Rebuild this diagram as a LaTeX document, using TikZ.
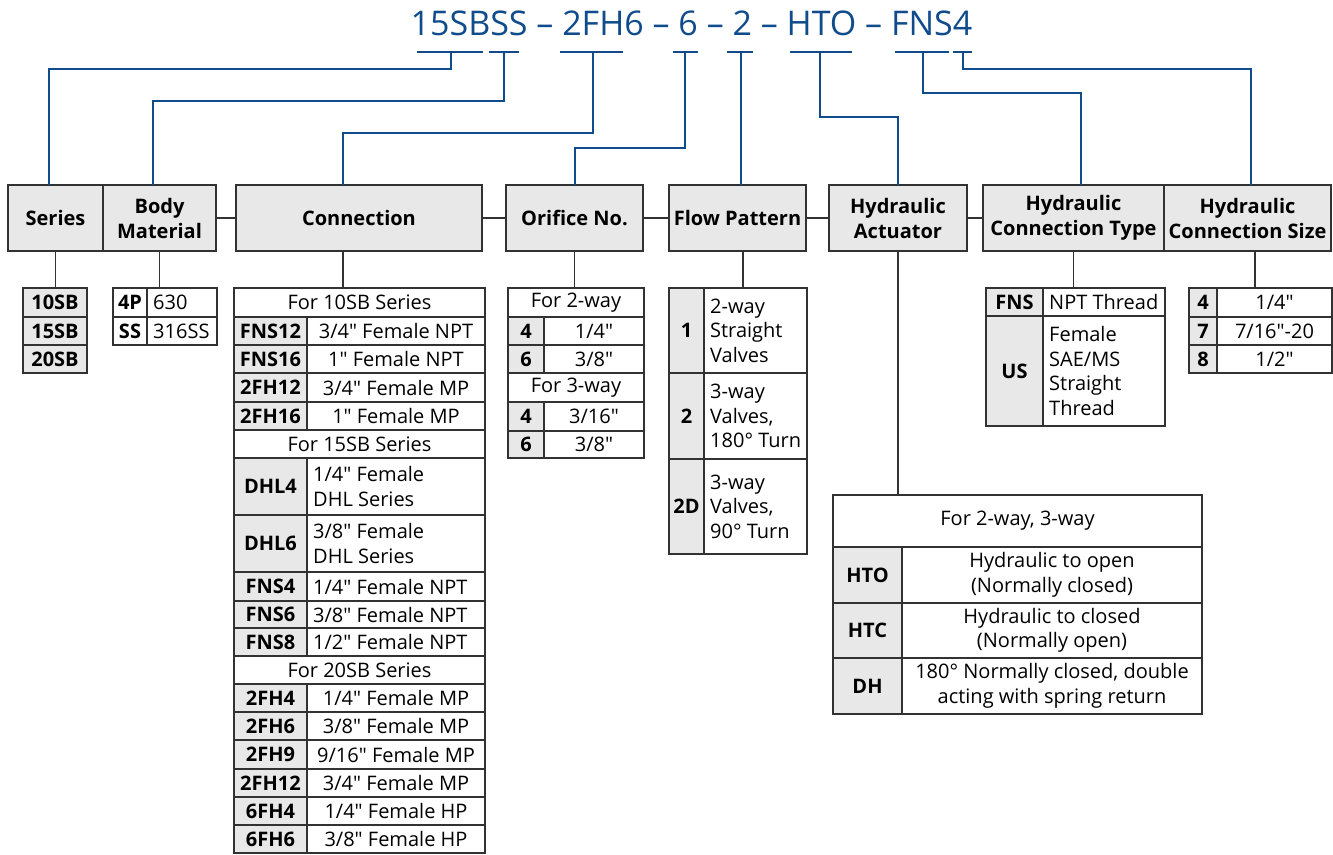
\documentclass[tikz,border=0pt]{standalone}
\usepackage{fontspec}
\setmainfont{Open Sans}[Ligatures=TeXOff]
\usetikzlibrary{calc}
\definecolor{bblue}{RGB}{16,76,140}
\definecolor{cgrey}{RGB}{232,232,232}
\definecolor{cline}{RGB}{50,50,50}
\newcommand\mkcell[7][]{\node[cell,#1,minimum width={(#5-#3)*1pt},minimum height={(#6-#4)*1pt}] (#2) at ({(#3+#5)/2},{(#4+#6)/2}) {#7};}
\newcommand\mkcellL[7][]{\node[cell,#1,minimum width={(#5-#3)*1pt},minimum height={(#6-#4)*1pt},label={[lbl]west:{#7}}] (#2) at ({(#3+#5)/2},{(#4+#6)/2}) {};}
\begin{document}
\begin{tikzpicture}[x=1pt,y=-1pt,
 cell/.style={draw=cline,line width=1.4pt,inner sep=0pt,outer sep=0pt,align=center,font=\fontsize{20}{24.5}\selectfont},
 lbl/.style={anchor=west,align=left,inner sep=0pt,label distance=0pt,xshift=6pt,font=\fontsize{20}{24.5}\selectfont},
 code/.style={fill=cgrey,font=\fontsize{20}{24.5}\selectfont\bfseries},
 codew/.style={font=\fontsize{20}{24.5}\selectfont\bfseries},
 head/.style={fill=cgrey,font=\fontsize{20}{25}\selectfont\bfseries},
 bl/.style={draw=bblue,line width=2.6pt},
 link/.style={draw=cline,line width=2pt},
 stem/.style={draw=cline,line width=1.5pt}]
\useasboundingbox (0,0) rectangle (1333,854);

% title
\node[font=\fontsize{34}{40}\selectfont,text=bblue,anchor=base,inner sep=0pt] (title) at (691.5,35) {15SBSS – 2FH6 – 6 – 2 – HTO – FNS4};

% header boxes
\mkcell[head]{hSeries}{8}{185}{103}{251}{Series}
\mkcell[head]{hBody}{103}{185}{216}{251}{Body\\Material}
\mkcell[head]{hConn}{236}{185}{482}{251}{Connection}
\mkcell[head]{hOrif}{506}{185}{643}{251}{Orifice No.}
\mkcell[head]{hFlow}{669}{185}{806}{251}{Flow Pattern}
\mkcell[head]{hAct}{829}{185}{967}{251}{Hydraulic\\Actuator}
\mkcell[head]{hType}{983}{185}{1164}{251}{Hydraulic\\Connection Type}
\mkcell[head]{hSize}{1164}{185}{1331}{251}{Hydraulic\\Connection Size}

% links between header boxes
\draw[link] (hBody.east) -- (hConn.west);
\draw[link] (hConn.east) -- (hOrif.west);
\draw[link] (hOrif.east) -- (hFlow.west);
\draw[link] (hFlow.east) -- (hAct.west);
\draw[link] (hAct.east) -- (hType.west);

% code bars and blue connectors
\coordinate (k1) at (451,52);
\coordinate (k2) at (504,52);
\coordinate (k3) at (593,52);
\coordinate (k4) at (685,52);
\coordinate (k5) at (741,52);
\coordinate (k6) at (820,52);
\coordinate (k7) at (923,52);
\coordinate (k8) at (963,52);
\draw[bl] ($(k1)+(-34,0)$) -- ($(k1)+(32,0)$);
\draw[bl] ($(k2)+(-15,0)$) -- ($(k2)+(15,0)$);
\draw[bl] ($(k3)+(-33,0)$) -- ($(k3)+(30,0)$);
\draw[bl] ($(k4)+(-12,0)$) -- ($(k4)+(13,0)$);
\draw[bl] ($(k5)+(-14,0)$) -- ($(k5)+(12,0)$);
\draw[bl] ($(k6)+(-30,0)$) -- ($(k6)+(32,0)$);
\draw[bl] ($(k7)+(-28,0)$) -- ($(k7)+(26,0)$);
\draw[bl] ($(k8)+(-10,0)$) -- ($(k8)+(9,0)$);
\draw[bl] (k1) -- (451,69) -| ($(hSeries.north west)+(41,0)$);
\draw[bl] (k2) -- (504,101) -| ($(hBody.north west)+(50,0)$);
\draw[bl] (k3) -- (593,133) -| ($(hConn.north west)+(107,0)$);
\draw[bl] (k4) -- (685,148) -| ($(hOrif.north west)+(69,0)$);
\draw[bl] (k5) -- (k5 |- hFlow.north);
\draw[bl] (k6) -- (820,117) -| (hAct.north);
\draw[bl] (k7) -- (923,93) -| ($(hType.north west)+(98,0)$);
\draw[bl] (k8) -- (963,69) -| ($(hSize.north west)+(87,0)$);

% Series table
\mkcell[code]{s1}{23}{288}{87}{317}{10SB}
\mkcell[code]{s2}{23}{317}{87}{345}{15SB}
\mkcell[code]{s3}{23}{345}{87}{373}{20SB}

% Body material table
\mkcell[codew]{b1c}{113}{288}{147}{317}{4P}
\mkcellL{b1v}{147}{288}{217}{317}{630}
\mkcell[codew]{b2c}{113}{317}{147}{345}{SS}
\mkcellL{b2v}{147}{317}{217}{345}{316SS}

% Connection table
\mkcell{c0}{234}{288}{485}{317}{For 10SB Series}
\mkcell[code]{c1c}{234}{317}{307}{345}{FNS12}
\mkcell{c1v}{307}{317}{485}{345}{3/4" Female NPT}
\mkcell[code]{c2c}{234}{345}{307}{373}{FNS16}
\mkcell{c2v}{307}{345}{485}{373}{1" Female NPT}
\mkcell[code]{c3c}{234}{373}{307}{402}{2FH12}
\mkcell{c3v}{307}{373}{485}{402}{3/4" Female MP}
\mkcell[code]{c4c}{234}{402}{307}{430}{2FH16}
\mkcell{c4v}{307}{402}{485}{430}{1" Female MP}
\mkcell{c5}{234}{430}{485}{458}{For 15SB Series}
\mkcell[code]{c6c}{234}{458}{307}{515}{DHL4}
\mkcellL{c6v}{307}{458}{485}{515}{1/4" Female\\DHL Series}
\mkcell[code]{c7c}{234}{515}{307}{572}{DHL6}
\mkcellL{c7v}{307}{515}{485}{572}{3/8" Female\\DHL Series}
\mkcell[code]{c8c}{234}{572}{307}{601}{FNS4}
\mkcellL{c8v}{307}{572}{485}{601}{1/4" Female NPT}
\mkcell[code]{c9c}{234}{601}{307}{628}{FNS6}
\mkcellL{c9v}{307}{601}{485}{628}{3/8" Female NPT}
\mkcell[code]{c10c}{234}{628}{307}{656}{FNS8}
\mkcellL{c10v}{307}{628}{485}{656}{1/2" Female NPT}
\mkcell{c11}{234}{656}{485}{684}{For 20SB Series}
\mkcell[code]{c12c}{234}{684}{307}{712}{2FH4}
\mkcell{c12v}{307}{684}{485}{712}{1/4" Female MP}
\mkcell[code]{c13c}{234}{712}{307}{740}{2FH6}
\mkcell{c13v}{307}{712}{485}{740}{3/8" Female MP}
\mkcell[code]{c14c}{234}{740}{307}{769}{2FH9}
\mkcell{c14v}{307}{740}{485}{769}{9/16" Female MP}
\mkcell[code]{c15c}{234}{769}{307}{797}{2FH12}
\mkcell{c15v}{307}{769}{485}{797}{3/4" Female MP}
\mkcell[code]{c16c}{234}{797}{307}{825}{6FH4}
\mkcell{c16v}{307}{797}{485}{825}{1/4" Female HP}
\mkcell[code]{c17c}{234}{825}{307}{853}{6FH6}
\mkcell{c17v}{307}{825}{485}{853}{3/8" Female HP}

% Orifice table
\mkcell{o0}{508}{288}{644}{317}{For 2-way}
\mkcell[code]{o1c}{508}{317}{544}{345}{4}
\mkcell{o1v}{544}{317}{644}{345}{1/4"}
\mkcell[code]{o2c}{508}{345}{544}{373}{6}
\mkcell{o2v}{544}{345}{644}{373}{3/8"}
\mkcell{o3}{508}{373}{644}{402}{For 3-way}
\mkcell[code]{o4c}{508}{402}{544}{431}{4}
\mkcell{o4v}{544}{402}{644}{431}{3/16"}
\mkcell[code]{o5c}{508}{431}{544}{458}{6}
\mkcell{o5v}{544}{431}{644}{458}{3/8"}

% Flow pattern table
\mkcell[code]{f1c}{669}{288}{704}{373}{1}
\mkcellL{f1v}{704}{288}{807}{373}{2-way\\Straight\\Valves}
\mkcell[code]{f2c}{669}{373}{704}{459}{2}
\mkcellL{f2v}{704}{373}{807}{459}{3-way\\Valves,\\180° Turn}
\mkcell[code]{f3c}{669}{459}{704}{554}{2D}
\mkcellL{f3v}{704}{459}{807}{554}{3-way\\Valves,\\90° Turn}

% Hydraulic actuator table
\mkcell{a0}{833}{495}{1202}{547}{For 2-way, 3-way}
\mkcell[code]{a1c}{833}{547}{902}{603}{HTO}
\mkcell{a1v}{902}{547}{1202}{603}{Hydraulic to open\\(Normally closed)}
\mkcell[code]{a2c}{833}{603}{902}{658}{HTC}
\mkcell{a2v}{902}{603}{1202}{658}{Hydraulic to closed\\(Normally open)}
\mkcell[code]{a3c}{833}{658}{902}{714}{DH}
\mkcell{a3v}{902}{658}{1202}{714}{180° Normally closed, double\\acting with spring return}

% Hydraulic connection type table
\mkcell[code]{t1c}{986}{288}{1043}{316}{FNS}
\mkcellL{t1v}{1043}{288}{1165}{316}{NPT Thread}
\mkcell[code]{t2c}{986}{316}{1043}{426}{US}
\mkcellL{t2v}{1043}{316}{1165}{426}{Female\\SAE/MS\\Straight\\Thread}

% Hydraulic connection size table
\mkcell[code]{z1c}{1189}{288}{1217}{317}{4}
\mkcell{z1v}{1217}{288}{1332}{317}{1/4"}
\mkcell[code]{z2c}{1189}{317}{1217}{345}{7}
\mkcell{z2v}{1217}{317}{1332}{345}{7/16"-20}
\mkcell[code]{z3c}{1189}{345}{1217}{373}{8}
\mkcell{z3v}{1217}{345}{1332}{373}{1/2"}

% stems from headers to tables
\coordinate (xc) at (343,0);
\coordinate (xf) at (743,0);
\coordinate (xz) at (1255,0);
\draw[stem] (hSeries.south) -- (hSeries.south |- s1.north);
\draw[stem] (hBody.south) -- (hBody.south |- b1c.north);
\draw[stem] (hConn.south -| xc) -- (c0.north -| xc);
\draw[stem] (hOrif.south) -- (hOrif.south |- o0.north);
\draw[stem] (hFlow.south -| xf) -- (f1v.north -| xf);
\draw[stem] (hAct.south) -- (hAct.south |- a0.north);
\draw[stem] (hType.south) -- (hType.south |- t1v.north);
\draw[stem] (hSize.south -| xz) -- (z1v.north -| xz);
\end{tikzpicture}
\end{document}
